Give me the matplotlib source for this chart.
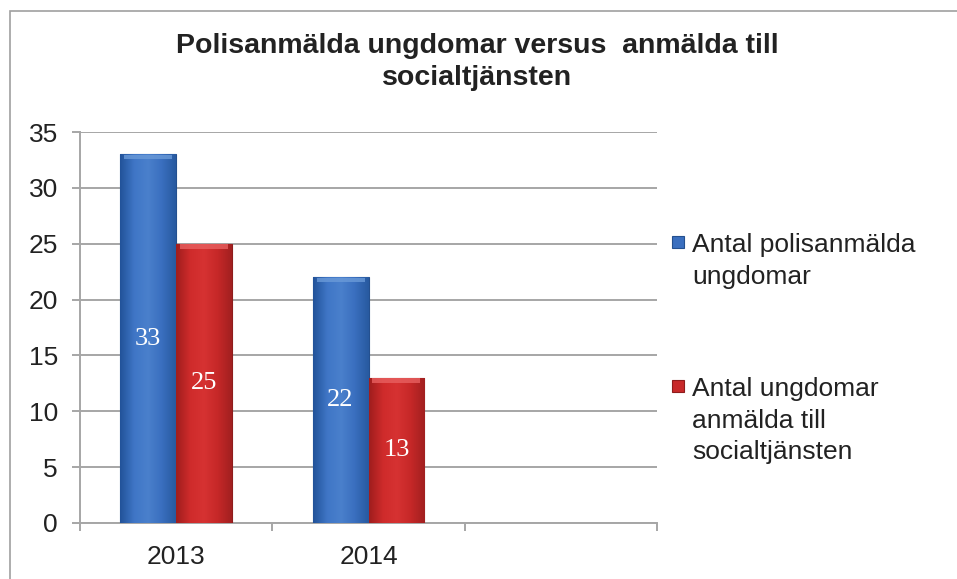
import matplotlib.pyplot as plt
import numpy as np
from matplotlib.patches import Rectangle
from matplotlib.colors import LinearSegmentedColormap

years = ["2013", "2014"]
polis = [33, 22]
social = [25, 13]
series_names = ["Antal polisanmälda\nungdomar",
                "Antal ungdomar\nanmälda till\nsocialtjänsten"]
title = "Polisanmälda ungdomar versus  anmälda till\nsocialtjänsten"
yticks = [0, 5, 10, 15, 20, 25, 30, 35]
n_slots = 3  # the chart keeps an empty third category slot

blue = "#3a6fbf"
red = "#c8292a"
grid_col = "#a6a6a6"
txt_col = "#222222"

plt.rcParams['font.family'] = ['Liberation Sans', 'DejaVu Sans']

fig = plt.figure(figsize=(9.57, 5.79), dpi=100)
# outer chart frame (left and top edges visible)
fig.patches.append(Rectangle((10 / 957, -0.1), 1.2, 1 - 11 / 579 + 0.1,
                             transform=fig.transFigure, fill=False,
                             edgecolor="#a0a0a0", linewidth=1.2))

ax = fig.add_axes([80 / 957, 1 - 523 / 579, 577 / 957, 391 / 579])

x = np.arange(len(years))
w = 0.29
b1 = ax.bar(x - w / 2, polis, w, color=blue, edgecolor="#24508f", linewidth=0.8, zorder=3)
b2 = ax.bar(x + w / 2, social, w, color=red, edgecolor="#8e1c1c", linewidth=0.8, zorder=3)

# soft shading on the bars, clipped to each bar
cm_blue = LinearSegmentedColormap.from_list("b", ["#22539a", "#3f76c6", "#4a80cc", "#3a6fbf", "#285aa0"])
cm_red = LinearSegmentedColormap.from_list("r", ["#a01e1e", "#cf2b2b", "#d63232", "#c62828", "#a22020"])
grad_h = np.linspace(0, 1, 64).reshape(1, -1)
for bars, cm, top in ((b1, cm_blue, "#6a9ad8"), (b2, cm_red, "#e86060")):
    for r in bars:
        x0, h, bw = r.get_x(), r.get_height(), r.get_width()
        im = ax.imshow(grad_h, cmap=cm, extent=(x0, x0 + bw, 0, h),
                       aspect="auto", zorder=3.5, interpolation="bicubic")
        im.set_clip_path(r)
        ax.add_patch(Rectangle((x0 + 0.02, h - 0.45), bw - 0.04, 0.4,
                               color=top, zorder=4, linewidth=0, alpha=0.8))

for bars, vals in ((b1, polis), (b2, social)):
    for r, v in zip(bars, vals):
        ax.text(r.get_x() + r.get_width() / 2, v / 2, str(v), ha="center", va="center",
                color="white", fontsize=19, family="Liberation Serif", zorder=5)

ax.set_xlim(-0.5, n_slots - 0.5)
ax.set_ylim(0, 35)
ax.set_yticks(yticks)
ax.set_yticklabels([str(t) for t in yticks], fontsize=19, color=txt_col)
ax.yaxis.grid(True, color=grid_col, linewidth=1.4, zorder=0)
ax.set_axisbelow(True)

ax.set_xticks(np.arange(n_slots + 1) - 0.5)
ax.set_xticklabels([])
ax.set_xticks(x, minor=True)
ax.set_xticklabels(years, minor=True, fontsize=19, color=txt_col)
ax.tick_params(axis="x", which="minor", length=0, pad=16)
ax.tick_params(axis="x", which="major", length=6, color=grid_col, width=1.4)
ax.tick_params(axis="y", length=6, color=grid_col, width=1.4, pad=10)

for s in ("top", "right"):
    ax.spines[s].set_visible(False)
for s in ("left", "bottom"):
    ax.spines[s].set_color(grid_col)
    ax.spines[s].set_linewidth(1.4)

fig.text(477 / 957, 1 - 62 / 579, title, ha="center", va="center",
         fontsize=20.5, fontweight="bold", color=txt_col, linespacing=1.32)

# legend drawn by hand so the marker sits beside the first line
legend_items = [(blue, "#24508f", series_names[0], 242),
                (red, "#8e1c1c", series_names[1], 386)]
for fc, ec, label, ypix in legend_items:
    fig.patches.append(Rectangle((672 / 957, 1 - (ypix + 6) / 579), 12 / 957, 12 / 579,
                                 transform=fig.transFigure, facecolor=fc,
                                 edgecolor=ec, linewidth=0.8))
    fig.text(692 / 957, 1 - (ypix - 9) / 579, label, ha="left", va="top",
             fontsize=19, color=txt_col, linespacing=1.4)

fig.savefig("out.png", dpi=100)
